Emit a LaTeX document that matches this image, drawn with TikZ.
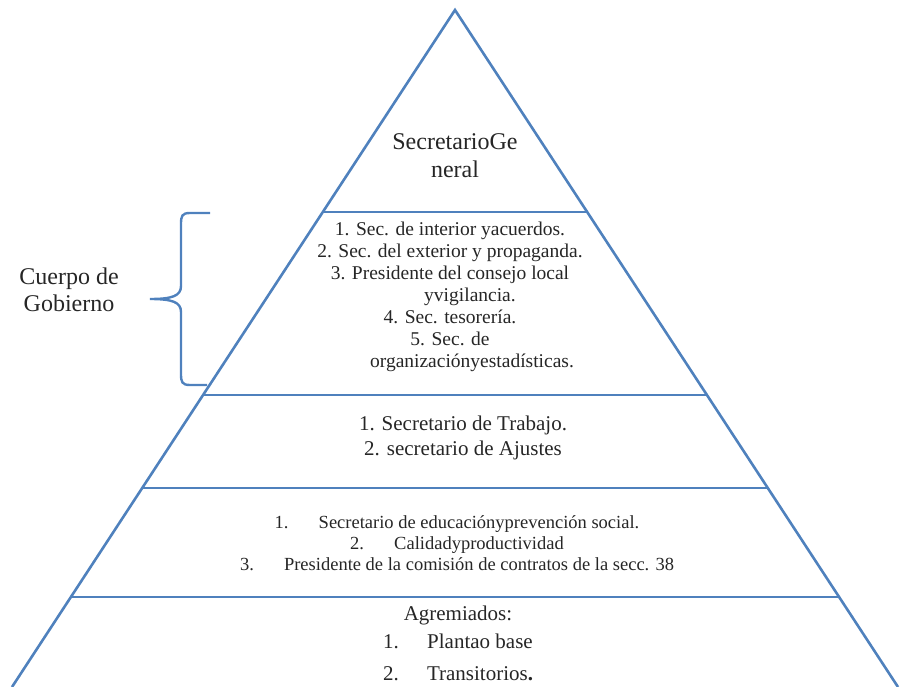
\documentclass[tikz,border=0pt]{standalone}
\usepackage{fontspec}
\setmainfont{Liberation Serif}
\usepackage{xcolor}
\usepackage{tikz}
\usetikzlibrary{calc}
\definecolor{pyrblue}{RGB}{79,129,189}
\definecolor{pyrtext}{RGB}{38,38,38}
\tikzstyle{layertext}=[pyrtext, shape=rectangle, inner sep=0pt, align=center]
\tikzstyle{pyrline}=[draw=pyrblue, line width=2.6pt]
\tikzstyle{pyrshadow}=[draw=black!25, line width=2.6pt, yshift=-2pt]
\newcommand{\numitem}[2]{\makebox[44pt][l]{#1}#2}

\begin{document}
\begin{tikzpicture}[x=1pt, y=-1pt]
\useasboundingbox (0,0) rectangle (902,687);
\coordinate (apex) at (455,10);
\coordinate (botleft) at (12,687);
\coordinate (botright) at (898,687);
\coordinate (left1) at ($(apex)!0.2984!(botleft)$);
\coordinate (right1) at ($(apex)!0.2984!(botright)$);
\coordinate (left2) at ($(apex)!0.5687!(botleft)$);
\coordinate (right2) at ($(apex)!0.5687!(botright)$);
\coordinate (left3) at ($(apex)!0.7061!(botleft)$);
\coordinate (right3) at ($(apex)!0.7061!(botright)$);
\coordinate (left4) at ($(apex)!0.8671!(botleft)$);
\coordinate (right4) at ($(apex)!0.8671!(botright)$);

\draw[pyrshadow] (left1) -- (right1);
\draw[pyrshadow] (left2) -- (right2);
\draw[pyrshadow] (left3) -- (right3);
\draw[pyrshadow] (left4) -- (right4);
\draw[pyrline] (botleft) -- (apex) -- (botright);
\draw[pyrline] (left1) -- (right1);
\draw[pyrline] (left2) -- (right2);
\draw[pyrline] (left3) -- (right3);
\draw[pyrline] (left4) -- (right4);

\node[layertext, font=\fontsize{24}{28}\selectfont] (secgen) at (455,156) {SecretarioGe\\ neral};
\node[layertext, font=\fontsize{19.5}{22}\selectfont] (gobierno) at (450,297) {1. Sec. de interior yacuerdos.\\ 2. Sec. del exterior y propaganda.\\ 3. Presidente del consejo local\\ \hspace*{40pt}yvigilancia.\\ 4. Sec. tesorería.\\ 5. Sec. de\\ \hspace*{44pt}organizaciónyestadísticas.};
\node[layertext, font=\fontsize{21}{25}\selectfont] (trabajo) at (463,438) {1. Secretario de Trabajo.\\ 2. secretario de Ajustes};
\node[layertext, font=\fontsize{18.5}{21}\selectfont] (educacion) at (457,543) {\numitem{1.}{Secretario de educaciónyprevención social.}\\ \numitem{2.}{Calidadyproductividad}\\ \numitem{3.}{Presidente de la comisión de contratos de la secc. 38}};
\node[layertext, font=\fontsize{21}{28}\selectfont] (agremiados) at (458,643) {Agremiados:\\ \numitem{1.}{Plantao base}\\[4pt] \numitem{2.}{Transitorios\textbf{.}}};

\node[layertext, font=\fontsize{24}{27}\selectfont] (cuerpo) at (69,290) {Cuerpo de\\ Gobierno};
\draw[pyrline, line width=2.4pt] (210,213) -- (190,213) .. controls (182,213) and (181,216) .. (181,224) -- (181,286) .. controls (181,296) and (172,299) .. (150,299) .. controls (172,299) and (181,302) .. (181,312) -- (181,374) .. controls (181,382) and (182,385) .. (190,385) -- (207,385);
\end{tikzpicture}
\end{document}
